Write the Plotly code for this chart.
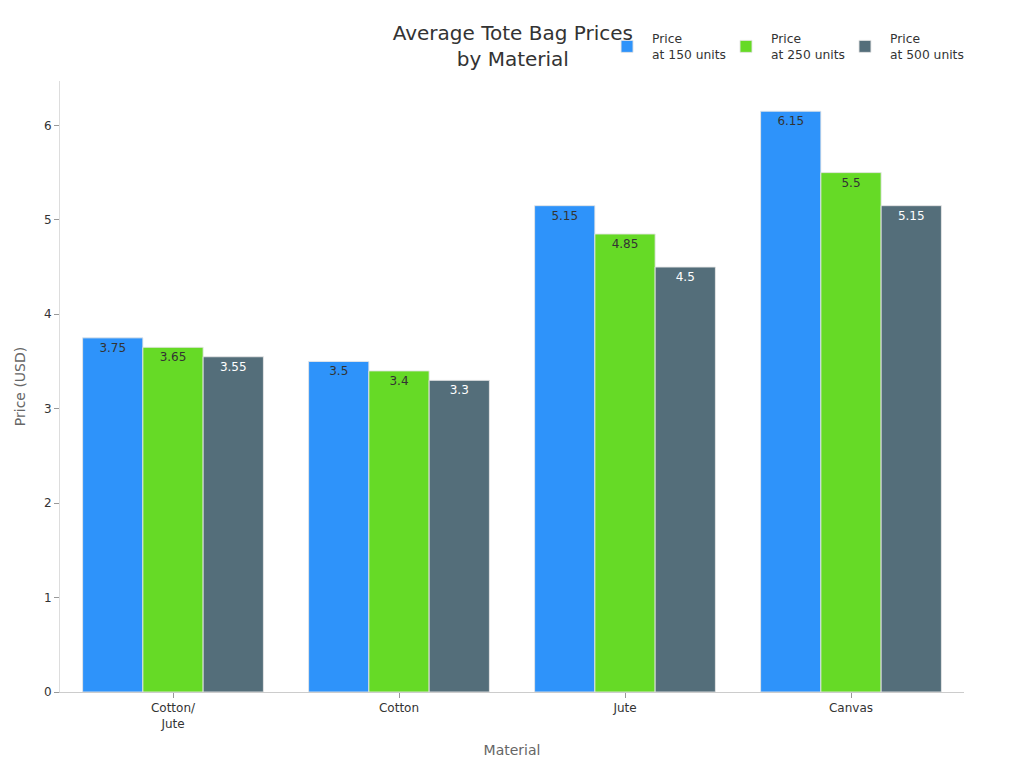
import plotly.graph_objects as go

categories = ["Cotton/<br>Jute", "Cotton", "Jute", "Canvas"]
series_names = ["Price<br>at 150 units", "Price<br>at 250 units", "Price<br>at 500 units"]
price_150 = [3.75, 3.5, 5.15, 6.15]
price_250 = [3.65, 3.4, 4.85, 5.5]
price_500 = [3.55, 3.3, 4.5, 5.15]
colors = ["#2E93FA", "#66DA26", "#546E7A"]
text_colors = ["#333333", "#333333", "#ffffff"]
legend_ids = ["legend", "legend2", "legend3"]

fig = go.Figure()
for name, vals, c, tc, lg in zip(series_names, [price_150, price_250, price_500], colors, text_colors, legend_ids):
    fig.add_trace(go.Bar(
        x=categories, y=vals, name=name, legend=lg, showlegend=True,
        marker=dict(color=c, line=dict(color="rgba(230,230,230,0.9)", width=1)),
        text=[str(v) for v in vals], textposition="inside", insidetextanchor="end",
        textfont=dict(color=tc, size=12, family="DejaVu Sans"),
        textangle=0,
    ))

legend_common = dict(orientation="h", xanchor="left", yref="container",
                     y=0.95, yanchor="middle", visible=True,
                     font=dict(size=12.3, color="#333333"), itemwidth=40,
                     bgcolor="rgba(0,0,0,0)")

fig.update_layout(
    width=1024, height=768,
    showlegend=True,
    font=dict(family="DejaVu Sans", color="#333333", size=12),
    paper_bgcolor="white", plot_bgcolor="white",
    title=dict(text="Average Tote Bag Prices<br>by Material", x=0.493, xanchor="center",
               xref="container", yref="container",
               y=0.958, yanchor="middle", font=dict(size=20, color="#333333")),
    barmode="group", bargap=0.2, bargroupgap=0,
    margin=dict(l=52, r=68, t=73, b=84, autoexpand=False),
    legend=dict(x=0.5996, **legend_common),
    legend2=dict(x=0.7312, **legend_common),
    legend3=dict(x=0.8628, **legend_common),
    xaxis=dict(title=dict(text="Material", font=dict(size=14, color="#666666")),
               automargin=False,
               showline=True, linecolor="#cccccc", ticks="outside", tickcolor="#999999",
               ticklen=5, showgrid=False, tickfont=dict(size=12)),
    yaxis=dict(title=dict(text="Price (USD)", font=dict(size=14, color="#666666")),
               automargin=False,
               showline=True, linecolor="#dddddd", ticks="outside", tickcolor="#999999",
               ticklen=5, showgrid=False, range=[0, 6.47], dtick=1, zeroline=False,
               tickfont=dict(size=12)),
)

fig.write_html("out.html")
